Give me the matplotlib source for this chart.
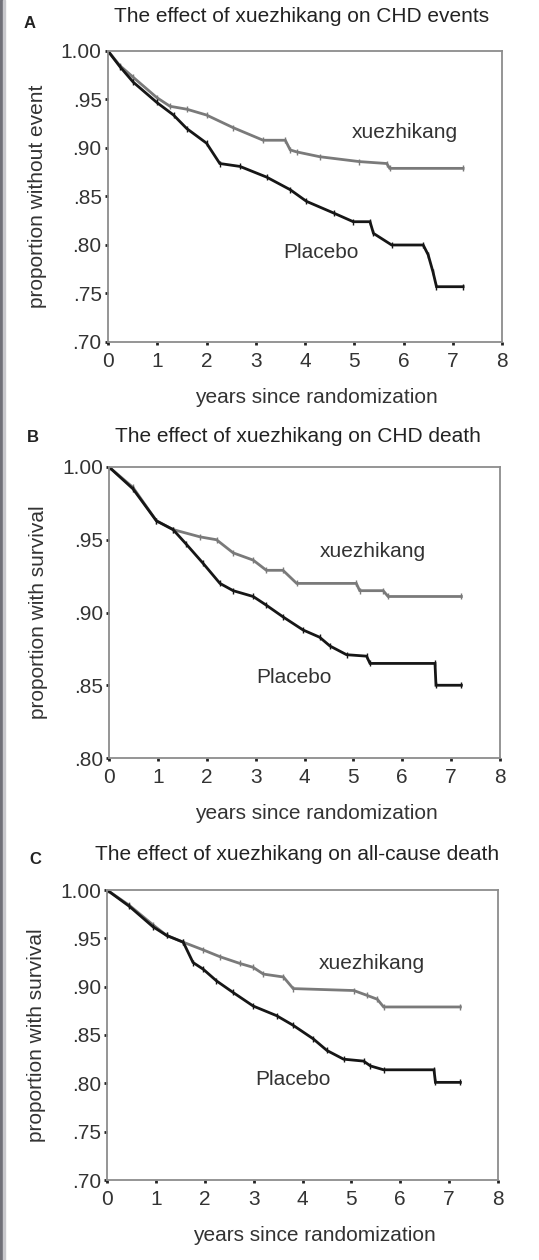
import matplotlib
matplotlib.use("Agg")
import matplotlib.pyplot as plt
from matplotlib.patches import Rectangle

plt.rcParams['font.family'] = ['Liberation Sans', 'DejaVu Sans']

# ---------------- data ----------------
panel_letters = ["A", "B", "C"]
titles = ["The effect of xuezhikang on CHD events",
          "The effect of xuezhikang on CHD death",
          "The effect of xuezhikang on all-cause death"]
ylabels = ["proportion without event", "proportion with survival", "proportion with survival"]
xlabel = "years since randomization"
xticks = [0, 1, 2, 3, 4, 5, 6, 7, 8]

# Panel A: CHD events
a_xue_t = [0, 0.24, 0.51, 0.99, 1.26, 1.6, 2.0, 2.54, 3.15, 3.6, 3.7, 3.83, 4.3, 5.1, 5.66, 5.72, 7.21]
a_xue_s = [1.00, 0.985, 0.973, 0.952, 0.943, 0.940, 0.934, 0.921, 0.908, 0.908, 0.898, 0.896, 0.891, 0.886, 0.884, 0.879, 0.879]
a_pla_t = [0, 0.24, 0.51, 0.99, 1.33, 1.6, 2.0, 2.27, 2.68, 3.22, 3.7, 4.03, 4.58, 4.98, 5.32, 5.39, 5.76, 6.4, 6.5, 6.6, 6.67, 7.21]
a_pla_s = [1.00, 0.984, 0.968, 0.947, 0.934, 0.920, 0.905, 0.884, 0.881, 0.870, 0.857, 0.845, 0.833, 0.824, 0.824, 0.812, 0.800, 0.800, 0.790, 0.772, 0.757, 0.757]

# Panel B: CHD death
b_xue_t = [0, 0.49, 0.97, 1.31, 1.86, 2.2, 2.54, 2.95, 3.22, 3.56, 3.84, 5.06, 5.13, 5.61, 5.71, 7.21]
b_xue_s = [1.00, 0.986, 0.963, 0.957, 0.952, 0.950, 0.941, 0.936, 0.929, 0.929, 0.920, 0.920, 0.915, 0.915, 0.911, 0.911]
b_pla_t = [0, 0.49, 0.97, 1.31, 1.58, 1.92, 2.27, 2.54, 2.95, 3.22, 3.56, 3.97, 4.31, 4.52, 4.86, 5.27, 5.34, 6.67, 6.69, 7.21]
b_pla_s = [1.00, 0.985, 0.963, 0.957, 0.947, 0.934, 0.920, 0.915, 0.911, 0.905, 0.897, 0.888, 0.883, 0.877, 0.871, 0.870, 0.865, 0.865, 0.850, 0.850]

# Panel C: all-cause death
c_xue_t = [0, 0.46, 0.94, 1.22, 1.56, 1.97, 2.31, 2.72, 2.99, 3.2, 3.61, 3.81, 5.05, 5.32, 5.53, 5.66, 7.23]
c_xue_s = [1.00, 0.984, 0.964, 0.953, 0.946, 0.938, 0.931, 0.924, 0.920, 0.913, 0.910, 0.898, 0.896, 0.891, 0.887, 0.879, 0.879]
c_pla_t = [0, 0.46, 0.94, 1.22, 1.56, 1.76, 1.97, 2.24, 2.58, 2.99, 3.47, 3.81, 4.22, 4.5, 4.84, 5.25, 5.39, 5.66, 6.69, 6.72, 7.23]
c_pla_s = [1.00, 0.983, 0.962, 0.953, 0.946, 0.925, 0.918, 0.906, 0.894, 0.880, 0.870, 0.860, 0.846, 0.834, 0.825, 0.823, 0.818, 0.814, 0.814, 0.801, 0.801]

ylims = [(0.70, 1.00), (0.80, 1.00), (0.70, 1.00)]
yticks_list = [[0.70, 0.75, 0.80, 0.85, 0.90, 0.95, 1.00],
               [0.80, 0.85, 0.90, 0.95, 1.00],
               [0.70, 0.75, 0.80, 0.85, 0.90, 0.95, 1.00]]
ytick_labels = [[".70", ".75", ".80", ".85", ".90", ".95", "1.00"],
                [".80", ".85", ".90", ".95", "1.00"],
                [".70", ".75", ".80", ".85", ".90", ".95", "1.00"]]

series = [((a_xue_t, a_xue_s), (a_pla_t, a_pla_s)),
          ((b_xue_t, b_xue_s), (b_pla_t, b_pla_s)),
          ((c_xue_t, c_xue_s), (c_pla_t, c_pla_s))]

xue_label_pos = [(4.95, 0.9155), (4.31, 0.9417), (4.33, 0.9237)]
pla_label_pos = [(3.55, 0.792), (3.02, 0.855), (3.03, 0.804)]

# ---------------- layout ----------------
W, H = 539, 1260
fig = plt.figure(figsize=(W / 100, H / 100), dpi=100)
fig.patch.set_facecolor("white")

FS = 15

# (left, top, right, bottom) in pixels
boxes = [(108, 51, 502, 342), (109, 467, 500, 758), (107, 890, 498, 1180)]
title_pos = [(0.492, 1.089), (0.482, 1.076), (0.487, 1.093)]
letter_pos = [(30, 23), (33, 437), (35, 860)]

xue_color = "#7a7a7a"
pla_color = "#161616"
frame_color = "#8c8c8c"

for i in range(3):
    l, t, r, b = boxes[i]
    ax = fig.add_axes([l / W, 1 - b / H, (r - l) / W, (b - t) / H])
    (xt, xs), (pt, ps) = series[i]
    ax.plot(xt, xs, color=xue_color, lw=2.0, marker="|", ms=4, mew=1.0, solid_joinstyle="miter")
    ax.plot(pt, ps, color=pla_color, lw=2.0, marker="|", ms=4, mew=1.0, solid_joinstyle="miter")
    ax.set_xlim(0, 8)
    ax.set_ylim(*ylims[i])
    ax.set_xticks(xticks)
    ax.set_xticklabels([str(v) for v in xticks])
    ax.set_yticks(yticks_list[i])
    ax.set_yticklabels(ytick_labels[i])
    for sp in ax.spines.values():
        sp.set_color(frame_color)
        sp.set_linewidth(1.3)
    ax.tick_params(axis="both", direction="out", length=2.5, width=2.0, color="#222222",
                   labelsize=FS, labelcolor="#333333")
    ax.tick_params(axis="y", pad=2)
    ax.tick_params(axis="x", pad=5)
    ax.set_xlabel(xlabel, fontsize=FS, color="#333333", va="center")
    ax.xaxis.set_label_coords(0.53, -0.19)
    ax.set_ylabel(ylabels[i], fontsize=FS, color="#333333", va="center")
    ax.yaxis.set_label_coords(-0.18, 0.5)
    ax.set_title(titles[i], fontsize=FS, color="#222222", x=title_pos[i][0], y=title_pos[i][1],
                 ha="center", va="center")
    ax.text(*xue_label_pos[i], "xuezhikang", fontsize=FS, color="#333333", ha="left", va="center")
    ax.text(*pla_label_pos[i], "Placebo", fontsize=FS, color="#333333", ha="left", va="center")
    fig.text(letter_pos[i][0] / W, 1 - letter_pos[i][1] / H, panel_letters[i], fontsize=12,
             fontweight="bold", color="#222222", ha="center", va="center")

# left border stripe
fig.patches.append(Rectangle((0, 0), 3 / W, 1, transform=fig.transFigure, color="#707078", zorder=5))
fig.patches.append(Rectangle((3 / W, 0), 2 / W, 1, transform=fig.transFigure, color="#c8c8cc", zorder=5))

fig.savefig("out.png", dpi=100, facecolor="white")
